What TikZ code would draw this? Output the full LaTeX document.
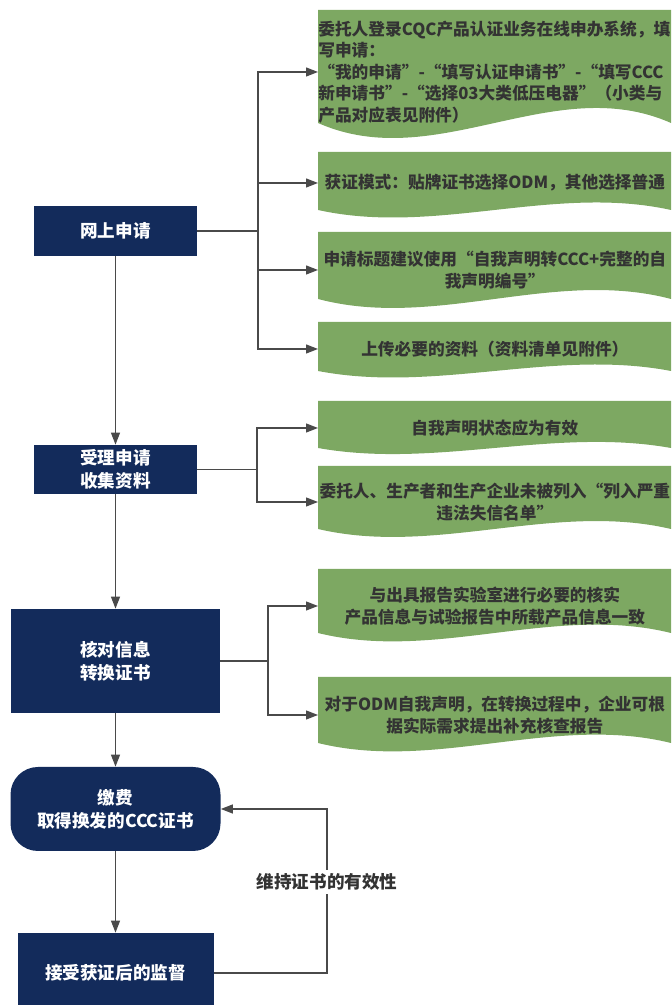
\documentclass[tikz,border=0pt]{standalone}
\usepackage{fontspec}
\setmainfont{Noto Sans CJK SC}
\usetikzlibrary{arrows.meta}

\definecolor{navy}{HTML}{132B5B}
\definecolor{gruen}{HTML}{7DA862}
\definecolor{schrift}{HTML}{333333}
\definecolor{linienfarbe}{HTML}{4A4A4A}

\begin{document}
\begin{tikzpicture}[
	schritt/.style={fill=navy, text=white, align=center, inner sep=0pt,
		font=\fontsize{10}{13}\selectfont\bfseries},
	hinweis/.style={anchor=west, inner sep=0pt, text width=7.06cm,
		align=center, text=schrift, font=\fontsize{9.5}{12.2}\selectfont\bfseries},
	vermerk/.style={fill=white, inner sep=2pt, text=schrift,
		font=\fontsize{10}{12}\selectfont\bfseries},
	linie/.style={draw=linienfarbe, line width=0.7pt},
	pfeil/.style={linie, -{Triangle[length=2.4mm, width=1.8mm]}}]
	\useasboundingbox (0,0) rectangle (13.42,20.1);
	\clip (0,0) rectangle (13.42,20.1);

	% Hinweisfelder rechts (Wellenunterkante)
	\foreach \oben/\unten/\welle in {19.9/17.64/1.04, 17.06/15.9/0.52,
		15.46/14.12/0.62, 13.66/12.68/0.45, 12.08/11.14/0.42,
		10.78/9.52/0.55, 8.72/7.44/0.58, 6.56/5.24/0.58}
		\fill[gruen] (6.36,\oben) -- (13.42,\oben) -- (13.42,\unten)
		.. controls (11.07,\unten+\welle) and (8.71,\unten-\welle) .. (6.36,\unten)
		-- cycle;

	% Hauptschritte links
	\node[schritt, minimum width=3.26cm, minimum height=1cm] (online) at (2.31,
	15.48) {网上申请};
	\node[schritt, minimum width=3.26cm, minimum height=0.98cm] (annahme) at
	(2.31, 10.71) {受理申请\\收集资料};
	\node[schritt, minimum width=4.16cm, minimum height=2.08cm] (pruefung) at
	(2.31, 6.88) {核对信息\\转换证书};
	\node[schritt, rounded corners=0.55cm, minimum width=4.2cm,
	minimum height=1.68cm] (gebuehr) at (2.31, 3.92) {缴费\\取得换发的CCC证书};
	\node[schritt, minimum width=3.92cm, minimum height=1.6cm] (aufsicht) at
	(2.31, 0.64) {接受获证后的监督};

	% Texte der Hinweisfelder
	\node[hinweis, align=left] (antrag) at (6.36, 18.66)
	{委托人登录CQC产品认证业务在线申办系统，填\\写申请：\\“我的申请”-“填写认证申请书”-“填写CCC\\新申请书”-“选择03大类低压电器”（小类与\\产品对应表见附件）};
	\node[hinweis] (modus) at (6.36, 16.44) {获证模式：贴牌证书选择ODM，其他选择普通};
	\node[hinweis] (titel) at (6.36, 14.7)
	{申请标题建议使用“自我声明转CCC+完整的自\\我声明编号”};
	\node[hinweis] (upload) at (6.36, 13.12) {上传必要的资料（资料清单见附件）};
	\node[hinweis] (status) at (6.36, 11.54) {自我声明状态应为有效};
	\node[hinweis] (liste) at (6.36, 10.06)
	{委托人、生产者和生产企业未被列入“列入严重\\违法失信名单”};
	\node[hinweis] (labor) at (6.36, 7.98)
	{与出具报告实验室进行必要的核实\\产品信息与试验报告中所载产品信息一致};
	\node[hinweis] (odm) at (6.36, 5.8)
	{对于ODM自我声明，在转换过程中，企业可根\\据实际需求提出补充核查报告};

	% Ablauf
	\draw[pfeil] (online) -- (annahme);
	\draw[pfeil] (annahme) -- (pruefung);
	\draw[pfeil] (pruefung) -- (gebuehr);
	\draw[pfeil] (gebuehr) -- (aufsicht);

	% Verzweigungen
	\coordinate (k1) at (5.16, 15.48);
	\draw[linie] (online.east) -- (k1);
	\draw[pfeil] (k1) |- (antrag.west);
	\draw[pfeil] (k1) |- (modus.west);
	\draw[pfeil] (k1) |- (titel.west);
	\draw[pfeil] (k1) |- (upload.west);
	\coordinate (k2) at (5.14, 10.71);
	\draw[linie] (annahme.east) -- (k2);
	\draw[pfeil] (k2) |- (status.west);
	\draw[pfeil] (k2) |- (liste.west);
	\coordinate (k3) at (5.36, 6.88);
	\draw[linie] (pruefung.east) -- (k3);
	\draw[pfeil] (k3) |- (labor.west);
	\draw[pfeil] (k3) |- (odm.west);

	% Rueckfuehrung
	\node[vermerk] (halten) at (6.54, 2.46) {维持证书的有效性};
	\draw[linie] (aufsicht.east) -| (halten.south);
	\draw[pfeil] (halten.north) |- (gebuehr.east);
\end{tikzpicture}
\end{document}
